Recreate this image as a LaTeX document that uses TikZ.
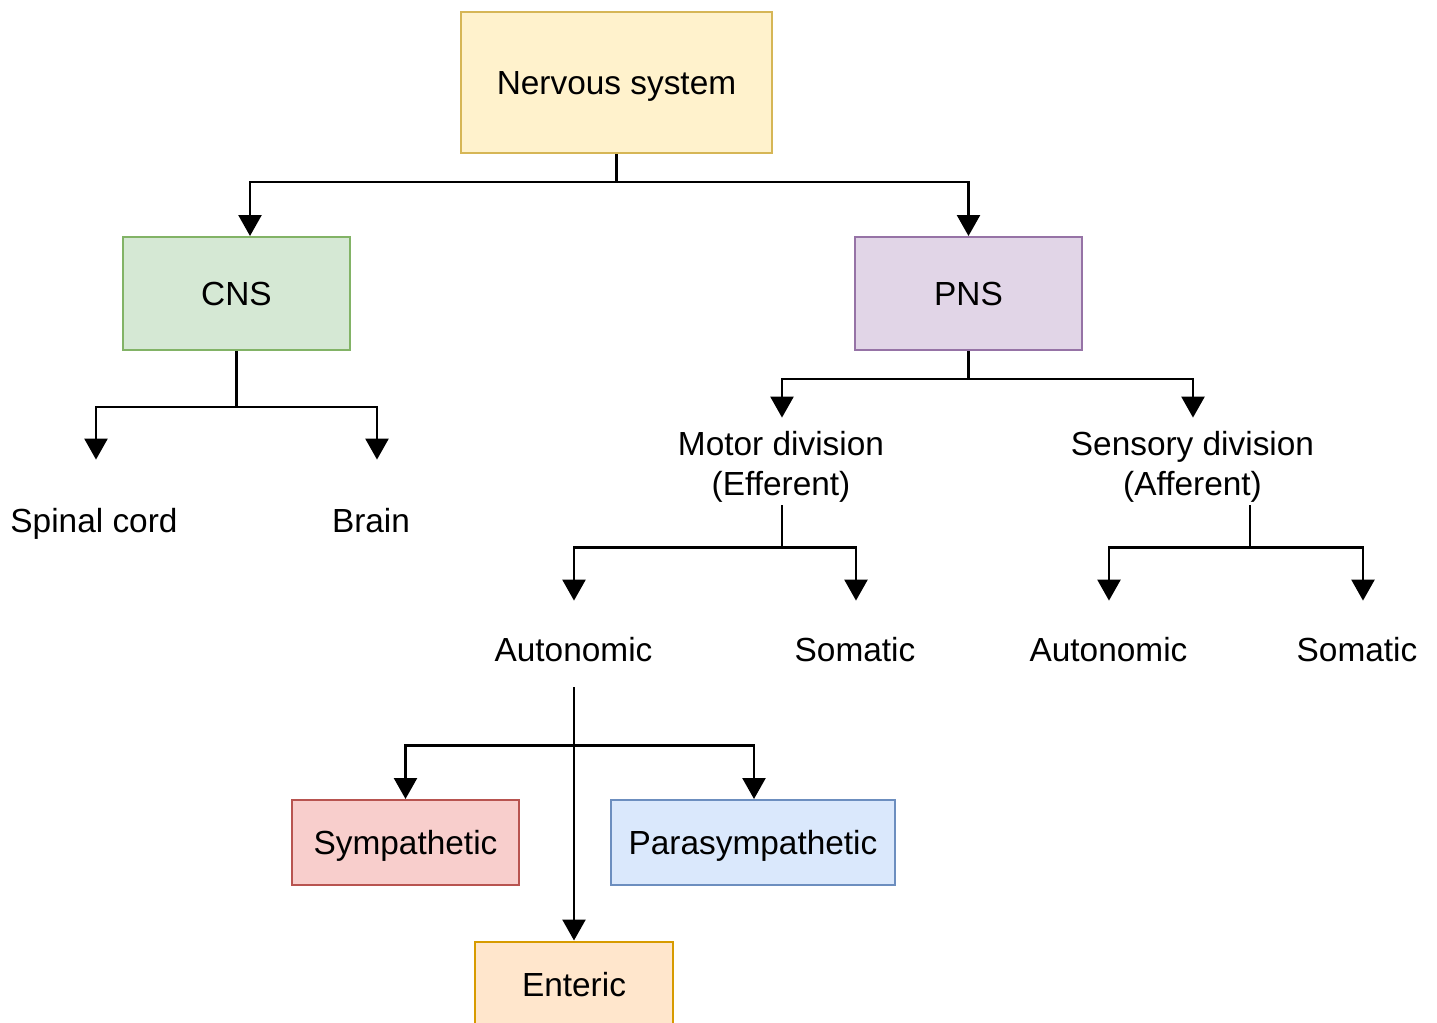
\documentclass[tikz,border=0pt]{standalone}
\usepackage{fontspec}
\setmainfont{Liberation Sans}
\usetikzlibrary{arrows.meta,calc}
\definecolor{yfill}{HTML}{FFF2CC}\definecolor{ydraw}{HTML}{D6B656}
\definecolor{gfill}{HTML}{D5E8D4}\definecolor{gdraw}{HTML}{82B366}
\definecolor{pfill}{HTML}{E1D5E7}\definecolor{pdraw}{HTML}{9673A6}
\definecolor{rfill}{HTML}{F8CECC}\definecolor{rdraw}{HTML}{B85450}
\definecolor{bfill}{HTML}{DAE8FC}\definecolor{bdraw}{HTML}{6C8EBF}
\definecolor{ofill}{HTML}{FFE6CC}\definecolor{odraw}{HTML}{D79B00}
\begin{document}
\begin{tikzpicture}[x=0.5pt,y=-0.5pt,
  every node/.style={font=\fontsize{16.7}{20}\selectfont, text=black},
  box/.style={draw, line width=1pt, inner sep=0pt, text height=15pt, text depth=3.5pt},
  lbl/.style={inner sep=0pt, text height=14pt, text depth=3.5pt},
  mlbl/.style={inner sep=0pt, align=center, minimum height=48pt},
  conn/.style={line width=1.25pt, -{Triangle[length=10.5pt,width=11.5pt]}}]
\useasboundingbox (0,0) rectangle (1437,1023);
\fill[white] (0,0) rectangle (1437,1023);
% boxes
\node[box, fill=yfill, draw=ydraw, minimum width=155.5pt, minimum height=70.5pt] (ns) at (616.5,82.5) {Nervous system};
\node[box, fill=gfill, draw=gdraw, minimum width=113.5pt, minimum height=56.5pt] (cns) at (236.5,293.5) {CNS};
\node[box, fill=pfill, draw=pdraw, minimum width=113.5pt, minimum height=56.5pt] (pns) at (968.5,293.5) {PNS};
\node[box, fill=rfill, draw=rdraw, minimum width=113.5pt, minimum height=42.5pt] (symp) at (405.5,842.5) {Sympathetic};
\node[box, fill=bfill, draw=bdraw, minimum width=142pt, minimum height=42.5pt] (para) at (753,842.5) {Parasympathetic};
\node[box, fill=ofill, draw=odraw, minimum width=99pt, minimum height=43pt] (ent) at (574,984.5) {Enteric};
% labels
\node[lbl, minimum height=62pt] (spinal) at (94,522) {Spinal cord};
\node[lbl, minimum height=62pt] (brain) at (371,522) {Brain};
\node[mlbl] (motor) at (781,467) {Motor division\\(Efferent)};
\node[mlbl] (sens) at (1192.5,467) {Sensory division\\(Afferent)};
\node[lbl, minimum height=49.5pt] (aut1) at (573.5,650.5) {Autonomic};
\node[lbl, minimum height=49.5pt] (som1) at (855,650.5) {Somatic};
\node[lbl, minimum height=49.5pt] (aut2) at (1108.5,650.5) {Autonomic};
\node[lbl, minimum height=49.5pt] (som2) at (1357,650.5) {Somatic};
% connectors
\draw[conn] (ns.south) -- ++(0,28) -| ($(cns.north)+(13.5,0)$);
\draw[conn] (ns.south) -- ++(0,28) -| (pns.north);
\draw[conn] (cns.south) -- ++(0,56) -| ($(spinal.north)+(2,0)$);
\draw[conn] (cns.south) -- ++(0,56) -| ($(brain.north)+(6,0)$);
\draw[conn] (pns.south) -- ++(0,28) -| ($(motor.north)+(1,-1)$);
\draw[conn] (pns.south) -- ++(0,28) -| ($(sens.north)+(0.5,-1)$);
\draw[conn] ($(motor.south)+(1,-10)$) -- ++(0,42) -| ($(aut1.north)+(0.5,0)$);
\draw[conn] ($(motor.south)+(1,-10)$) -- ++(0,42) -| ($(som1.north)+(1,0)$);
\draw[conn] ($(sens.south)+(57.5,-10)$) -- ++(0,42) -| ($(aut2.north)+(0.5,0)$);
\draw[conn] ($(sens.south)+(57.5,-10)$) -- ++(0,42) -| ($(som2.north)+(6,0)$);
\draw[conn] ($(aut1.south)+(0.5,-13)$) -- ++(0,58) -| (symp.north);
\draw[conn] ($(aut1.south)+(0.5,-13)$) -- ++(0,58) -| ($(para.north)+(1,0)$);
\draw[conn] ($(aut1.south)+(0.5,-13)$) -- (ent.north);
\end{tikzpicture}
\end{document}
